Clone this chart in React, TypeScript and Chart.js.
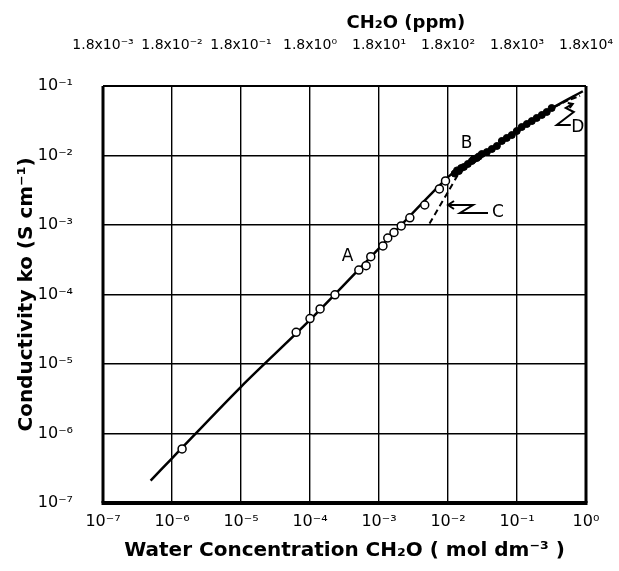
import React, { useEffect, useRef } from "react";
import { Chart, registerables } from "chart.js";
Chart.register(...registerables);

// ---------- data ----------
const xDecades = [1e-7, 1e-6, 1e-5, 1e-4, 1e-3, 1e-2, 1e-1, 1];
const xTickLabels = ["10⁻⁷", "10⁻⁶", "10⁻⁵", "10⁻⁴", "10⁻³", "10⁻²", "10⁻¹", "10⁰"];
const ppmTickLabels = ["1.8x10⁻³", "1.8x10⁻²", "1.8x10⁻¹", "1.8x10⁰", "1.8x10¹", "1.8x10²", "1.8x10³", "1.8x10⁴"];
const yDecades = [1e-7, 1e-6, 1e-5, 1e-4, 1e-3, 1e-2, 1e-1];
const yTickLabels = ["10⁻⁷", "10⁻⁶", "10⁻⁵", "10⁻⁴", "10⁻³", "10⁻²", "10⁻¹"];

// open circles
const openX = [1.4e-6, 6.3e-5, 1.0e-4, 1.4e-4, 2.3e-4, 5.1e-4, 6.5e-4, 7.6e-4, 1.14e-3, 1.34e-3, 1.65e-3, 2.1e-3, 2.8e-3, 4.6e-3, 7.5e-3, 9.2e-3];
const openY = [6.0e-7, 2.86e-5, 4.5e-5, 6.2e-5, 9.9e-5, 2.25e-4, 2.6e-4, 3.5e-4, 5.0e-4, 6.5e-4, 7.8e-4, 9.7e-4, 1.27e-3, 1.94e-3, 3.3e-3, 4.3e-3];

// filled circles
const filledX = [0.0125, 0.0135, 0.0144, 0.0155, 0.017, 0.0194, 0.0222, 0.0235, 0.0262, 0.028, 0.0309, 0.0366, 0.0432, 0.0511, 0.0603, 0.0711, 0.0841, 0.0993, 0.117, 0.139, 0.164, 0.193, 0.229, 0.27, 0.318];
const filledY = [0.0055, 0.0061, 0.00598, 0.0066, 0.00684, 0.00755, 0.00834, 0.0088, 0.0092, 0.0097, 0.0105, 0.0112, 0.0124, 0.0137, 0.0162, 0.0179, 0.0197, 0.0225, 0.0257, 0.0284, 0.0313, 0.0347, 0.0383, 0.0423, 0.0482];

// solid curve A
const curveX = [4.9e-7, 1e-6, 1e-5, 1e-4, 1e-3, 1e-2, 2e-2, 5e-2, 1e-1, 3e-1, 0.9];
const curveY = [2.1e-7, 4.4e-7, 4.7e-6, 4.3e-5, 4.6e-4, 4.9e-3, 7.8e-3, 1.36e-2, 2.2e-2, 4.6e-2, 8.4e-2];

// dashed curve C
const dashCX = [5.4e-3, 1.0e-2, 1.5e-2];
const dashCY = [1.05e-3, 3.0e-3, 6.0e-3];

// dashed curve D
const dashDX = [0.35, 0.55, 0.82];
const dashDY = [0.05, 0.062, 0.072];

// annotation anchors (data space)
const labelA = { x: 3.5e-4, y: 3.5e-4 };
const labelB = { x: 0.0186, y: 0.015 };
const arrowC = { x: 0.01, y: 1.94e-3 };
const arrowD = { x: 0.643, y: 0.0551 };
const ppmTitlePos = 10 ** -2.61;

const pts = (xs: number[], ys: number[]) => xs.map((x, i) => ({ x, y: ys[i] }));
const findLabel = (decs: number[], labels: string[], v: number) => {
  const i = decs.findIndex((d) => Math.abs(Math.log10(d) - Math.log10(v)) < 0.01);
  return i >= 0 ? labels[i] : "";
};

const FONT = "'DejaVu Sans', sans-serif";

const framePlugin = {
  id: "frame",
  beforeDatasetsDraw(chart: any) {
    const { ctx, chartArea: a } = chart;
    ctx.save();
    ctx.strokeStyle = "#000";
    ctx.lineWidth = 2;
    ctx.beginPath();
    ctx.moveTo(a.left, a.top);
    ctx.lineTo(a.right, a.top);
    ctx.stroke();
    ctx.lineWidth = 3;
    ctx.beginPath();
    ctx.moveTo(a.left, a.top);
    ctx.lineTo(a.left, a.bottom);
    ctx.moveTo(a.right, a.top);
    ctx.lineTo(a.right, a.bottom);
    ctx.stroke();
    ctx.lineWidth = 4;
    ctx.beginPath();
    ctx.moveTo(a.left - 1.5, a.bottom);
    ctx.lineTo(a.right + 1.5, a.bottom);
    ctx.stroke();
    ctx.restore();
  },
};

const annPlugin = {
  id: "ann",
  afterDatasetsDraw(chart: any) {
    const { ctx } = chart;
    const xs = chart.scales.x;
    const ys = chart.scales.y;
    const P = (p: { x: number; y: number }) => [xs.getPixelForValue(p.x), ys.getPixelForValue(p.y)];
    ctx.save();
    ctx.fillStyle = "#000";
    ctx.strokeStyle = "#000";
    ctx.font = `17px ${FONT}`;
    ctx.textAlign = "center";
    ctx.textBaseline = "middle";
    let [ax, ay] = P(labelA);
    ctx.fillText("A", ax, ay);
    [ax, ay] = P(labelB);
    ctx.fillText("B", ax, ay);

    // C arrow
    const [cx, cy] = P(arrowC);
    ctx.lineWidth = 2;
    ctx.beginPath();
    ctx.moveTo(cx + 6, cy - 4);
    ctx.lineTo(cx, cy);
    ctx.lineTo(cx + 6, cy + 4);
    ctx.moveTo(cx, cy);
    ctx.lineTo(cx + 25, cy);
    ctx.lineTo(cx + 12, cy + 8);
    ctx.lineTo(cx + 40, cy + 8);
    ctx.stroke();
    ctx.fillText("C", cx + 50, cy + 8);

    // D arrow
    const [dx, dy] = P(arrowD);
    ctx.beginPath();
    ctx.moveTo(dx - 5, dy - 1);
    ctx.lineTo(dx, dy);
    ctx.lineTo(dx - 3, dy + 4);
    ctx.moveTo(dx, dy);
    ctx.lineTo(dx - 7, dy + 4);
    ctx.lineTo(dx + 1, dy + 8);
    ctx.lineTo(dx - 16, dy + 21);
    ctx.lineTo(dx - 2, dy + 21);
    ctx.stroke();
    ctx.fillText("D", dx + 5, dy + 24);

    // top title
    const tx = chart.scales.x2.getPixelForValue(ppmTitlePos);
    ctx.font = `bold 18px ${FONT}`;
    ctx.fillText("CH₂O (ppm)", tx, 23);
    ctx.restore();
  },
};

export default function App() {
  const ref = useRef<HTMLCanvasElement>(null);
  useEffect(() => {
    if (!ref.current) return;
    const tickFont = { family: FONT, size: 16 };
    const chart = new Chart(ref.current, {
      type: "scatter",
      data: {
        datasets: [
          {
            label: "open",
            data: pts(openX, openY),
            pointStyle: "circle",
            pointRadius: 4,
            pointBackgroundColor: "#fff",
            pointBorderColor: "#000",
            pointBorderWidth: 1.5,
            showLine: false,
            order: 1,
          },
          {
            label: "filled",
            data: pts(filledX, filledY),
            pointStyle: "circle",
            pointRadius: 3.5,
            pointBackgroundColor: "#000",
            pointBorderColor: "#000",
            pointBorderWidth: 1,
            showLine: false,
            order: 2,
          },
          {
            label: "A",
            data: pts(curveX, curveY),
            showLine: true,
            borderColor: "#000",
            borderWidth: 2.5,
            pointRadius: 0,
            tension: 0.3,
            order: 3,
          },
          {
            label: "C",
            data: pts(dashCX, dashCY),
            showLine: true,
            borderColor: "#000",
            borderWidth: 2,
            borderDash: [6, 4],
            pointRadius: 0,
            tension: 0.3,
            order: 4,
          },
          {
            label: "D",
            data: pts(dashDX, dashDY),
            showLine: true,
            borderColor: "#000",
            borderWidth: 2,
            borderDash: [6, 3],
            pointRadius: 0,
            tension: 0.3,
            order: 5,
          },
        ],
      },
      options: {
        animation: false,
        responsive: false,
        devicePixelRatio: 1,
        layout: { padding: { left: 0, right: 33, top: 0, bottom: 0 } },
        plugins: { legend: { display: false }, tooltip: { enabled: false } },
        scales: {
          x: {
            type: "logarithmic",
            position: "bottom",
            min: 1e-7,
            max: 1,
            afterBuildTicks: (s: any) => {
              s.ticks = xDecades.map((v) => ({ value: v }));
            },
            afterFit: (s: any) => {
              s.height = 68;
              s.paddingLeft = 0;
              s.paddingRight = 0;
            },
            grid: { color: "#000", lineWidth: 1.4, drawTicks: false },
            border: { display: false },
            ticks: {
              color: "#000",
              font: tickFont,
              padding: 9,
              autoSkip: false,
              maxRotation: 0,
              callback: (v: any) => findLabel(xDecades, xTickLabels, Number(v)),
            },
            title: {
              display: true,
              text: "Water Concentration CH₂O ( mol dm⁻³ )",
              color: "#000",
              font: { family: FONT, size: 20, weight: "bold" },
              padding: { top: 4, bottom: 8 },
            },
          },
          x2: {
            type: "logarithmic",
            position: "top",
            min: 1e-7,
            max: 1,
            afterBuildTicks: (s: any) => {
              s.ticks = xDecades.map((v) => ({ value: v }));
            },
            afterFit: (s: any) => {
              s.height = 86;
              s.paddingLeft = 0;
              s.paddingRight = 0;
            },
            grid: { display: false, drawTicks: false },
            border: { display: false },
            ticks: {
              color: "#000",
              font: { family: FONT, size: 14 },
              padding: 32,
              autoSkip: false,
              maxRotation: 0,
              callback: (v: any) => findLabel(xDecades, ppmTickLabels, Number(v)),
            },
          },
          y: {
            type: "logarithmic",
            min: 1e-7,
            max: 1e-1,
            afterBuildTicks: (s: any) => {
              s.ticks = yDecades.map((v) => ({ value: v }));
            },
            afterFit: (s: any) => {
              s.width = 103;
            },
            grid: { color: "#000", lineWidth: 1.4, drawTicks: false },
            border: { display: false },
            ticks: {
              color: "#000",
              font: tickFont,
              padding: 30,
              autoSkip: false,
              callback: (v: any) => findLabel(yDecades, yTickLabels, Number(v)),
            },
            title: {
              display: true,
              text: "Conductivity ko (S cm⁻¹)",
              color: "#000",
              font: { family: FONT, size: 20, weight: "bold" },
              padding: { top: 15, bottom: 4 },
            },
          },
        },
      },
      plugins: [framePlugin, annPlugin],
    } as any);
    return () => chart.destroy();
  }, []);
  return (
    <div style={{ position: "absolute", left: 0, top: 0, width: 619, height: 571, background: "#fff" }}>
      <canvas ref={ref} width={619} height={571} />
    </div>
  );
}
